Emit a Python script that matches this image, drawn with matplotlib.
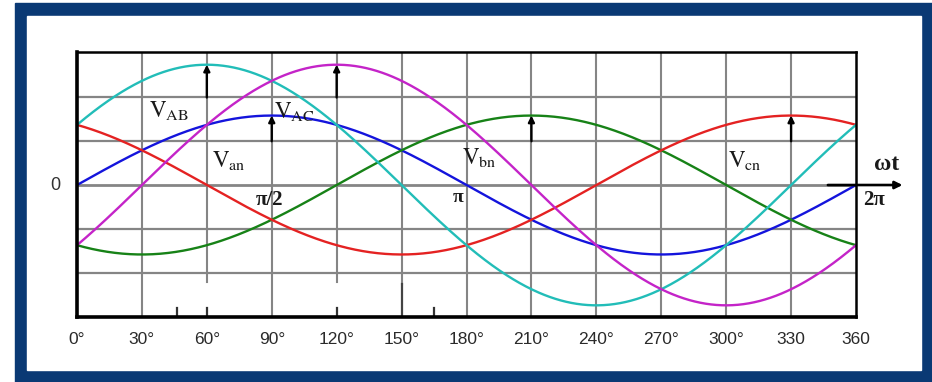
import numpy as np
import matplotlib
matplotlib.use("Agg")
import matplotlib.pyplot as plt
from matplotlib.patches import Rectangle

# ---- data -------------------------------------------------------------
series_names = ["Van", "Vbn", "Vcn", "VAB", "VAC"]
peak_angle_deg = [90, 210, 330, 60, 120]          # angle of each maximum
peak_value = [1.0, 1.0, 1.0, 1.732, 1.732]         # phase = 1, line = sqrt(3)
series_colors = ["#1414dc", "#178217", "#e42222", "#22bdb8", "#c424c8"]

tick_angles = [0, 30, 60, 90, 120, 150, 180, 210, 240, 270, 300, 330, 360]
tick_labels = ["0°", "30°", "60°", "90°", "120°", "150°", "180°", "210°",
               "240°", "270°", "300°", "330", "360"]
grid_levels = [-1.26, -0.63, 0.0, 0.63, 1.26]

# ---- figure & frame ---------------------------------------------------
W, H = 932, 382
fig = plt.figure(figsize=(W / 100, H / 100), dpi=100)
fig.patch.set_facecolor("white")
navy = "#0a3974"
fig.patches.append(Rectangle((15 / W, 0), (W - 15) / W, (H - 3) / H,
                             transform=fig.transFigure, color=navy, zorder=0))
fig.patches.append(Rectangle((27 / W, (H - 370) / H), 894 / W, 354 / H,
                             transform=fig.transFigure, color="white", zorder=1))

ax = fig.add_axes([77 / W, (H - 317) / H, 779 / W, 265 / H])
ax.set_zorder(2)
ax.set_xlim(0, 360)
ax.set_ylim(-1.9, 1.915)

# ---- grid -------------------------------------------------------------
grid_col = "#858585"
for y in grid_levels:
    ax.axhline(y, color=grid_col, lw=1.6 if y else 2.0, zorder=1)
for a in tick_angles[1:-1]:
    if a in (60, 120):
        # these two stop short and leave a tick mark at the bottom edge
        ax.plot([a, a], [-1.4, 1.915], color=grid_col, lw=1.5, zorder=1)
    elif a == 150:
        ax.plot([a, a], [-1.42, 1.915], color=grid_col, lw=1.5, zorder=1)
        ax.plot([a, a], [-1.9, -1.42], color="#444444", lw=1.6, zorder=1)
    else:
        ax.axvline(a, color=grid_col, lw=1.5, zorder=1)
for a in (46, 60, 120, 165):
    ax.plot([a, a], [-1.9, -1.77], color="#333333", lw=1.6, zorder=2)

# ---- waveforms --------------------------------------------------------
theta = np.linspace(0, 360, 721)
for pk, val, col in zip(peak_angle_deg, peak_value, series_colors):
    ax.plot(theta, val * np.cos(np.radians(theta - pk)), color=col, lw=1.7,
            zorder=3)

# peak markers: arrows rising from the grid line below each maximum
for pk, val in zip(peak_angle_deg, peak_value):
    base = max(g for g in grid_levels if g < val)
    ax.annotate("", xy=(pk, val), xytext=(pk, base),
                arrowprops=dict(arrowstyle="-|>", color="black", lw=1.7,
                                mutation_scale=9, shrinkA=0, shrinkB=0),
                zorder=4)

# ---- labels -----------------------------------------------------------
plt.rcParams["mathtext.fontset"] = "stix"
lab_kw = dict(fontsize=16.5, color="#1a1a1a", va="center", ha="left", zorder=5)
ax.text(33.5, 1.08, r"$\mathrm{V}_{\mathrm{AB}}$", **lab_kw)
ax.text(91.0, 1.06, r"$\mathrm{V}_{\mathrm{AC}}$", **lab_kw)
ax.text(62.5, 0.36, r"$\mathrm{V}_{\mathrm{an}}$", **lab_kw)
ax.text(178.0, 0.40, r"$\mathrm{V}_{\mathrm{bn}}$", **lab_kw)
ax.text(301.0, 0.36, r"$\mathrm{V}_{\mathrm{cn}}$", **lab_kw)

sym_kw = dict(family="Liberation Serif", fontweight="bold", color="#1a1a1a",
              ha="center", va="center", zorder=5)
ax.text(89, -0.21, "π/2", fontsize=15, **sym_kw)
ax.text(176, -0.18, "π", fontsize=14, **sym_kw)
ax.text(368.5, -0.22, "2π", fontsize=15, clip_on=False, **sym_kw)
ax.text(374.0, 0.30, "ωt", fontsize=17, clip_on=False, **sym_kw)
ax.text(-10, 0.0, "0", fontsize=13, family="Liberation Sans", color="#333333",
        ha="center", va="center")

# horizontal axis arrow beyond the plot
ax.annotate("", xy=(381.5, 0), xytext=(347, 0),
            arrowprops=dict(arrowstyle="-|>", color="black", lw=1.9,
                            mutation_scale=11, shrinkA=0, shrinkB=0,
                            clip_on=False),
            annotation_clip=False, zorder=5)

# ---- axes styling -----------------------------------------------------
ax.set_xticks(tick_angles)
ax.set_xticklabels(tick_labels, family="Liberation Sans", fontsize=12.5,
                   color="#2a2a2a")
ax.tick_params(axis="x", length=0, pad=11)
ax.set_yticks([])
for side, sp in ax.spines.items():
    sp.set_color("black")
    sp.set_linewidth(2.6 if side in ("left", "bottom") else 1.8)
    sp.set_zorder(6)

fig.savefig("out.png", dpi=100)
